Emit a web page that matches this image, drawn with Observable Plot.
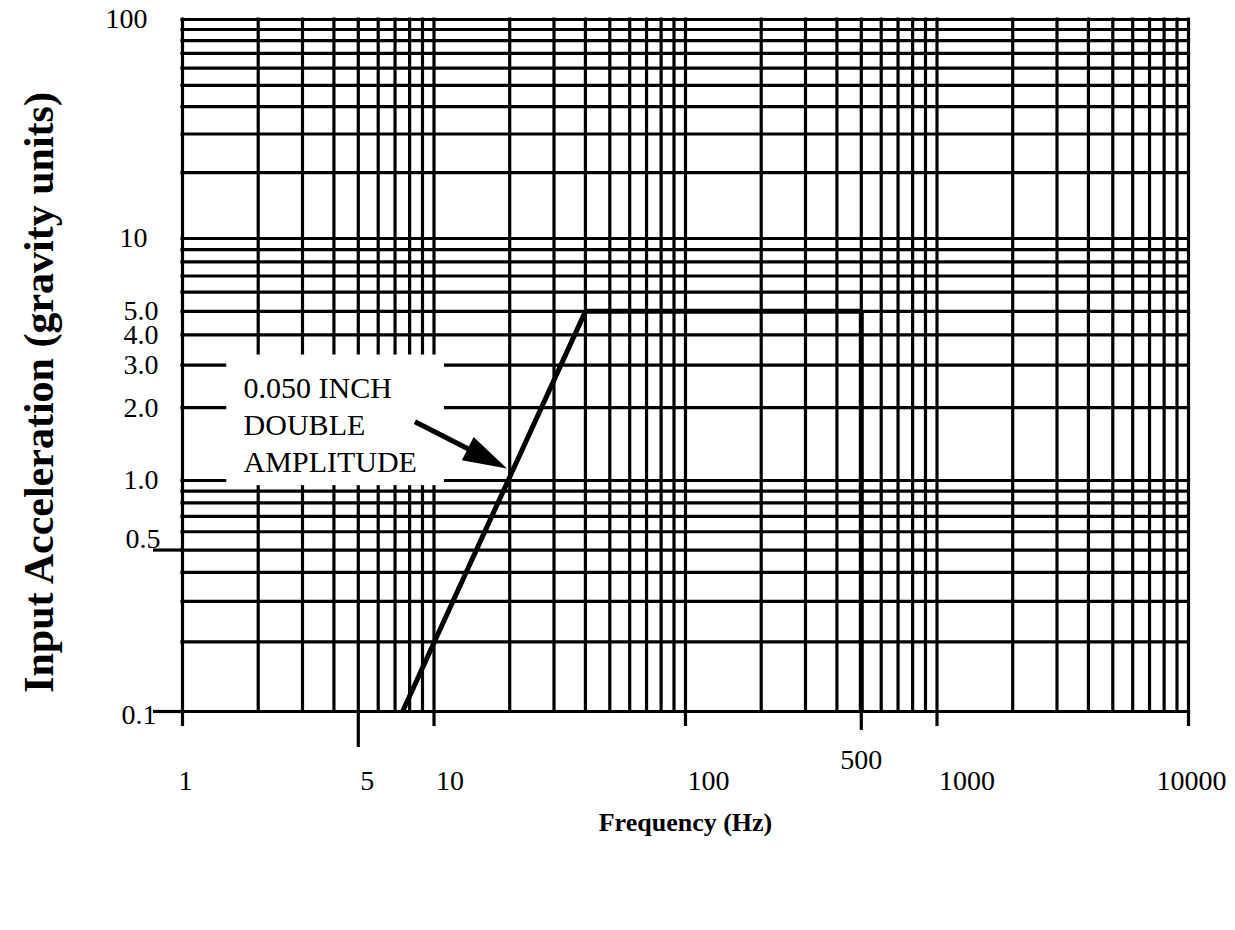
<!DOCTYPE html>
<html>
<head>
<meta charset="utf-8">
<script src="https://cdn.jsdelivr.net/npm/d3@7"></script>
<script src="https://cdn.jsdelivr.net/npm/@observablehq/plot@0.6"></script>
<style>
  html, body { margin: 0; padding: 0; background: #fff; }
  #chart svg { display: block; }
</style>
</head>
<body>
<div id="chart"></div>
<script>
// Sine-vibration test envelope drawn on 4 x 3 cycle log-log paper.

// Rulings of the log paper
const freqRulings = [
  1, 2, 3, 4, 5, 6, 7, 8, 9,
  10, 20, 30, 40, 50, 60, 70, 80, 90,
  100, 200, 300, 400, 500, 600, 700, 800, 900,
  1000, 2000, 3000, 4000, 5000, 6000, 7000, 8000, 9000,
  10000
];
const accelRulings = [
  0.1, 0.2, 0.3, 0.4, 0.5, 0.6, 0.7, 0.8, 0.9,
  1, 2, 3, 4, 5, 6, 7, 8, 9,
  10, 20, 30, 40, 50, 60, 70, 80, 90,
  100
];

// Labelled ticks
const freqDecades = [1, 10, 100, 1000, 10000];
const freqLabelsCentered = [1, 10000];
const freqLabelsLeft = [5, 10, 100, 1000];
const freqLabelsRaised = [500];
const accelTicks = [100, 10, 5, 4, 3, 2, 1, 0.5, 0.1];
const accelTickLabels = ["100", "10", "5.0", "4.0", "3.0", "2.0", "1.0", "0.5", "0.1"];

// Test envelope: constant-displacement ramp, then 5 g plateau to 500 Hz
const envFreq = [7.5, 40, 500, 500];
const envAccel = [0.1, 5, 5, 0.1];

// Callout
const calloutLines = ["0.050 INCH", "DOUBLE", "AMPLITUDE"];
const calloutAnchor = {freq: 1.75, accel: 2.8};
const calloutBox = {freq1: 1.5, freq2: 11, accel1: 0.95, accel2: 3.3};
const arrowTail = {freq: 8.4, accel: 1.75};
const arrowTip = {freq: 19.5, accel: 1.12};

const envelope = envFreq.map((f, i) => ({freq: f, accel: envAccel[i]}));
const accelLabel = d => accelTickLabels[accelTicks.indexOf(d)];
const noLabel = () => "";
const serif = "'Liberation Serif', 'Times New Roman', serif";

// Filled, slender arrowhead with its tip at the origin, pointing along +x
const arrowHead = {
  draw(context) {
    context.moveTo(0, 0);
    context.lineTo(-44, -13);
    context.lineTo(-44, 13);
    context.closePath();
  }
};

const W = 1235, H = 930;
const mLeft = 182, mRight = 47, mTop = 19, mBottom = 219;
const ink = {stroke: "black", strokeWidth: 3.2};
const tickText = {fontSize: 28, fontFamily: serif, fill: "black", lineAnchor: "middle"};

const chart = Plot.plot({
  width: W,
  height: H,
  marginLeft: mLeft,
  marginRight: mRight,
  marginTop: mTop,
  marginBottom: mBottom,
  style: {background: "white", color: "black", fontFamily: serif},
  x: {type: "log", domain: [1, 10000]},
  // one segment per printed cycle of the paper
  y: {type: "log", domain: [0.1, 1, 10, 100], range: [H - mBottom, 480, 238, mTop]},
  marks: [
    // paper grid
    Plot.ruleX(freqRulings, {...ink, strokeLinecap: "square"}),
    Plot.ruleY(accelRulings, {...ink, strokeLinecap: "square"}),

    // blank patch holding the callout
    Plot.rect([calloutBox], {x1: "freq1", x2: "freq2", y1: "accel1", y2: "accel2", fill: "white"}),

    // tick marks outside the frame
    Plot.axisX(freqDecades, {...ink, tickSize: 15, tickFormat: noLabel, label: null}),
    Plot.axisX([5], {...ink, tickSize: 36, tickFormat: noLabel, label: null}),
    Plot.axisX([500], {...ink, tickSize: 19, tickFormat: noLabel, label: null}),
    Plot.axisY([0.5, 0.1], {...ink, tickSize: 29, tickFormat: noLabel, label: null}),

    // frequency labels
    Plot.text(freqLabelsCentered, {...tickText, x: d => d, text: d => String(d),
      frameAnchor: "bottom", dy: 70, dx: 3, textAnchor: "middle"}),
    Plot.text(freqLabelsLeft, {...tickText, x: d => d, text: d => String(d),
      frameAnchor: "bottom", dy: 70, dx: 2, textAnchor: "start"}),
    Plot.text(freqLabelsRaised, {...tickText, x: d => d, text: d => String(d),
      frameAnchor: "bottom", dy: 49, textAnchor: "middle"}),

    // acceleration labels
    Plot.axisY([100, 10], {tickSize: 0, tickPadding: 35,
      fontSize: 28, fontFamily: serif, tickFormat: accelLabel, label: null}),
    Plot.axisY([5, 4, 3, 2, 1], {tickSize: 0, tickPadding: 24,
      fontSize: 28, fontFamily: serif, tickFormat: accelLabel, label: null}),
    Plot.axisY([0.5], {tickSize: 0, tickPadding: 22, dy: -11,
      fontSize: 28, fontFamily: serif, tickFormat: accelLabel, label: null}),
    Plot.axisY([0.1], {tickSize: 0, tickPadding: 26, dy: 4,
      fontSize: 28, fontFamily: serif, tickFormat: accelLabel, label: null}),

    // test envelope
    Plot.line(envelope, {x: "freq", y: "accel", stroke: "black", strokeWidth: 5,
      strokeLinejoin: "miter", strokeLinecap: "butt"}),

    // callout text and pointer
    Plot.text([calloutAnchor], {x: "freq", y: "accel", text: () => calloutLines.join("\n"),
      textAnchor: "start", lineAnchor: "top", lineHeight: 1.23, fontSize: 30,
      fontFamily: serif, fill: "black"}),
    Plot.arrow([{x1: arrowTail.freq, y1: arrowTail.accel, x2: arrowTip.freq, y2: arrowTip.accel}], {
      x1: "x1", y1: "y1", x2: "x2", y2: "y2", headLength: 0, insetEnd: 30,
      stroke: "black", strokeWidth: 5, strokeLinecap: "butt"}),
    Plot.dot([arrowTip], {x: "freq", y: "accel", symbol: arrowHead, rotate: 27,
      fill: "black", stroke: "none", r: 10}),

    // axis titles
    Plot.text(["Frequency (Hz)"], {frameAnchor: "bottom", dy: 111, lineAnchor: "middle",
      textAnchor: "middle", fontSize: 26, fontWeight: "bold", fontFamily: serif, fill: "black"}),
    Plot.text(["Input Acceleration (gravity units)"], {frameAnchor: "left", dx: -143, dy: 27, rotate: -90,
      textAnchor: "middle", lineAnchor: "middle", fontSize: 42, fontWeight: "bold",
      fontFamily: serif, fill: "black"})
  ]
});

document.getElementById("chart").appendChild(chart);
</script>
</body>
</html>
